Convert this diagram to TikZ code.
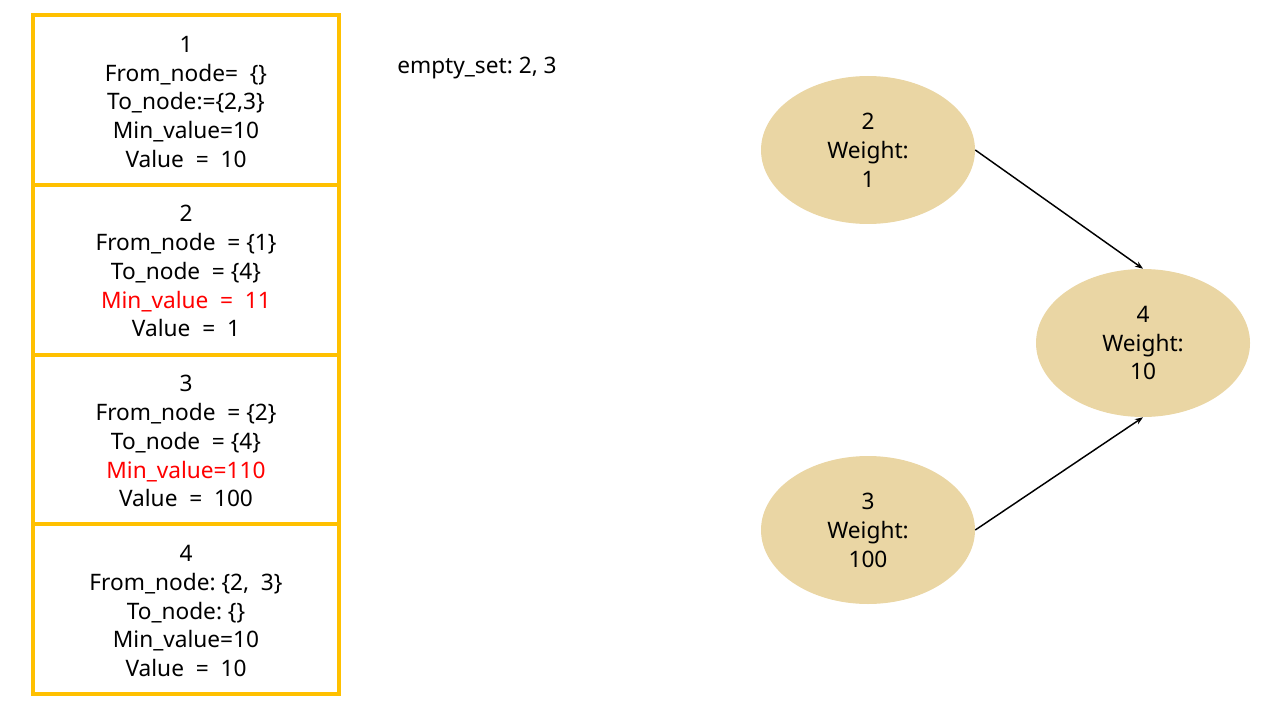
\documentclass[tikz,border=0pt]{standalone}
\usepackage{fontspec}
\setmainfont{Noto Sans}
\usetikzlibrary{shapes.geometric,arrows.meta}
\definecolor{boxgold}{RGB}{255,192,0}
\definecolor{papyrus}{RGB}{234,214,164}
\definecolor{minred}{RGB}{255,0,0}
\tikzset{
  record/.style={draw=boxgold,line width=2.6pt},
  rectext/.style={inner sep=0.75pt,align=center,font=\fontsize{17}{21.7}\selectfont},
  weightnode/.style={ellipse,fill=papyrus,minimum width=160.5pt,minimum height=111pt,inner sep=0pt,align=center,font=\fontsize{17}{21.7}\selectfont},
  edge/.style={-{Stealth[length=6pt,width=4.5pt]},line width=1.1pt}
}
\begin{document}
\begin{tikzpicture}[x=0.75pt,y=0.75pt,yscale=-1,xscale=1]
		\useasboundingbox (0,0) rectangle (1280,720);
		
		%Rectangles of the node list
		\draw [record] (33,15) rectangle (339,185);
		\draw [record] (33,185) rectangle (339,355);
		\draw [record] (33,355) rectangle (339,524);
		\draw [record] (33,524) rectangle (339,694);
		
		% Text Node
		\draw (186,102) node [rectext] (rec1) {1\\From\_node=~~\{\}\\To\_node:=\{2,3\}\\Min\_value=10\\Value~~=~~10};
		% Text Node
		\draw (186,271) node [rectext] (rec2) {2\\From\_node~~=~\{1\}\\To\_node~~=~\{4\}\\\textcolor{minred}{Min\_value~~=~~11}\\Value~~=~~1};
		% Text Node
		\draw (186,441) node [rectext] (rec3) {3\\From\_node~~=~\{2\}\\To\_node~~=~\{4\}\\\textcolor{minred}{Min\_value=110}\\Value~~=~~100};
		% Text Node
		\draw (186,611) node [rectext] (rec4) {4\\From\_node:~\{2,~~3\}\\To\_node:~\{\}\\Min\_value=10\\Value~~=~~10};
		
		% Text Node
		\draw (396,68) node [anchor=west][inner sep=0.75pt] [font=\fontsize{17}{21.7}\selectfont] (empty) {empty\_set:~2,~3};
		
		%Ellipses of the graph
		\draw (868,150) node [weightnode] (n2) {2\\Weight:\\1};
		\draw (1143,343) node [weightnode] (n4) {4\\Weight:\\10};
		\draw (868,530) node [weightnode] (n3) {3\\Weight:\\100};
		
		%Straight Lines
		\draw [edge] (n2.east) -- (n4.north);
		%Straight Lines
		\draw [edge] (n3.east) -- (n4.south);
		
\end{tikzpicture}
\end{document}
